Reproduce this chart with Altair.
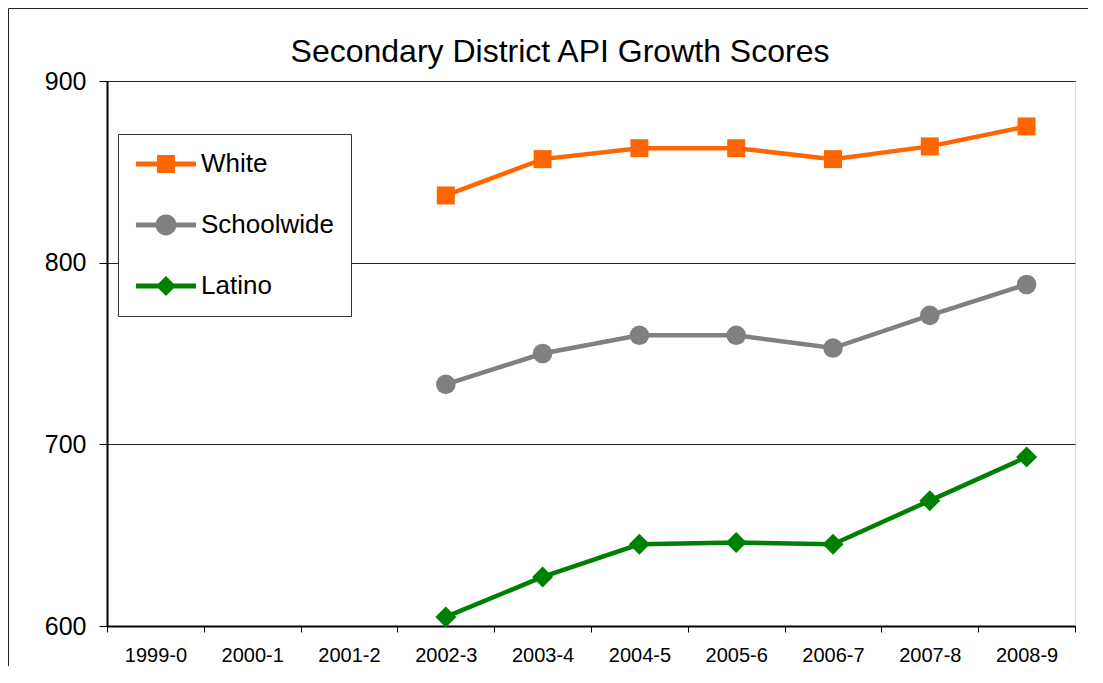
import altair as alt
import pandas as pd

# ---- data ----
years = ["1999-0", "2000-1", "2001-2", "2002-3", "2003-4", "2004-5",
         "2005-6", "2006-7", "2007-8", "2008-9"]
data_years = ["2002-3", "2003-4", "2004-5", "2005-6", "2006-7", "2007-8", "2008-9"]
series = ["White", "Schoolwide", "Latino"]
white = [837, 857, 863, 863, 857, 864, 875]
schoolwide = [733, 750, 760, 760, 753, 771, 788]
latino = [605, 627, 645, 646, 645, 669, 693]
y_ticks = [600, 700, 800, 900]

colors = ["#FF6600", "#808080", "#008000"]
shapes = ["square", "circle", "diamond"]
sizes = [324, 441, 225]
# legend symbols (unit = 13px): line segment with marker
legend_paths = [
    "M-2.31,-0.19H2.31V0.19H-2.31Z M-0.69,-0.69H0.69V0.69H-0.69Z",
    "M-2.31,-0.19H2.31V0.19H-2.31Z M0.8,0A0.8,0.8 0 1,1 -0.8,0A0.8,0.8 0 1,1 0.8,0Z",
    "M-2.31,-0.19H2.31V0.19H-2.31Z M0,-0.77L0.77,0L0,0.77L-0.77,0Z",
]

rows = []
for name, vals in zip(series, [white, schoolwide, latino]):
    for yr, v in zip(data_years, vals):
        rows.append({"year": yr, "series": name, "value": v})
df = pd.DataFrame(rows)

FONT = "Liberation Sans"

x_enc = alt.X("year:N",
              scale=alt.Scale(domain=years, paddingInner=0, paddingOuter=0),
              axis=alt.Axis(title=None, labelAngle=0, labelFontSize=20,
                            labelPadding=13, tickSize=6, tickBand="extent",
                            tickColor="black", domainColor="black",
                            domainWidth=2, labelColor="black", grid=False))
y_enc = alt.Y("value:Q",
              scale=alt.Scale(domain=[600, 900], nice=False, zero=False),
              axis=alt.Axis(title=None, values=y_ticks, labelFontSize=25,
                            labelPadding=13, tickSize=8, tickColor="black",
                            domainColor="black", domainWidth=2,
                            labelColor="black", grid=True,
                            gridColor="#222222", gridWidth=1))

base = alt.Chart(df).encode(x=x_enc, y=y_enc)

frame = alt.Chart(pd.DataFrame({"k": [0]})).mark_rect(
    filled=False, stroke="#222222", strokeWidth=1
).encode(x=alt.value(-98.5), x2=alt.value(3000),
         y=alt.value(-72.5), y2=alt.value(3000))

lines = base.mark_line(strokeWidth=4.5).encode(
    color=alt.Color("series:N", scale=alt.Scale(domain=series, range=colors),
                    legend=None),
    detail="series:N",
)

points = base.mark_point(filled=True, opacity=1).encode(
    color=alt.Color("series:N", scale=alt.Scale(domain=series, range=colors),
                    legend=None),
    shape=alt.Shape("series:N", scale=alt.Scale(domain=series, range=shapes),
                    legend=None),
    size=alt.Size("series:N", scale=alt.Scale(domain=series, range=sizes),
                  legend=None),
)

leg = alt.Legend(orient="none", legendX=11, legendY=53, title=None,
                 padding=17, rowPadding=35, labelFontSize=26, labelFont=FONT,
                 labelColor="black", labelOffset=22, symbolOffset=18,
                 symbolStrokeWidth=0, symbolSize=676, symbolOpacity=1,
                 strokeColor="#333333", fillColor="white", cornerRadius=0)

legend_layer = base.mark_point(filled=True, size=676).encode(
    fill=alt.Fill("series:N", scale=alt.Scale(domain=series, range=colors),
                  legend=leg),
    shape=alt.Shape("series:N", scale=alt.Scale(domain=series, range=legend_paths),
                    legend=leg),
).transform_filter("false")

chart = alt.layer(frame, lines, points, legend_layer).resolve_scale(
    shape="independent", fill="independent"
).properties(
    width=968, height=545,
    autosize=alt.AutoSizeParams(type="none"),
    padding={"left": 99, "top": 73, "right": 13, "bottom": 40},
    title=alt.TitleParams("Secondary District API Growth Scores", fontSize=32,
                          font=FONT, fontWeight="normal", color="black",
                          anchor="middle", frame="group", baseline="alphabetic",
                          offset=0, dx=-31, dy=86),
).configure_view(
    stroke="black", strokeWidth=2
).configure_axis(
    labelFont=FONT
).configure(background="white")

chart.save("out.html", embed_options={"renderer": "svg", "actions": False})
